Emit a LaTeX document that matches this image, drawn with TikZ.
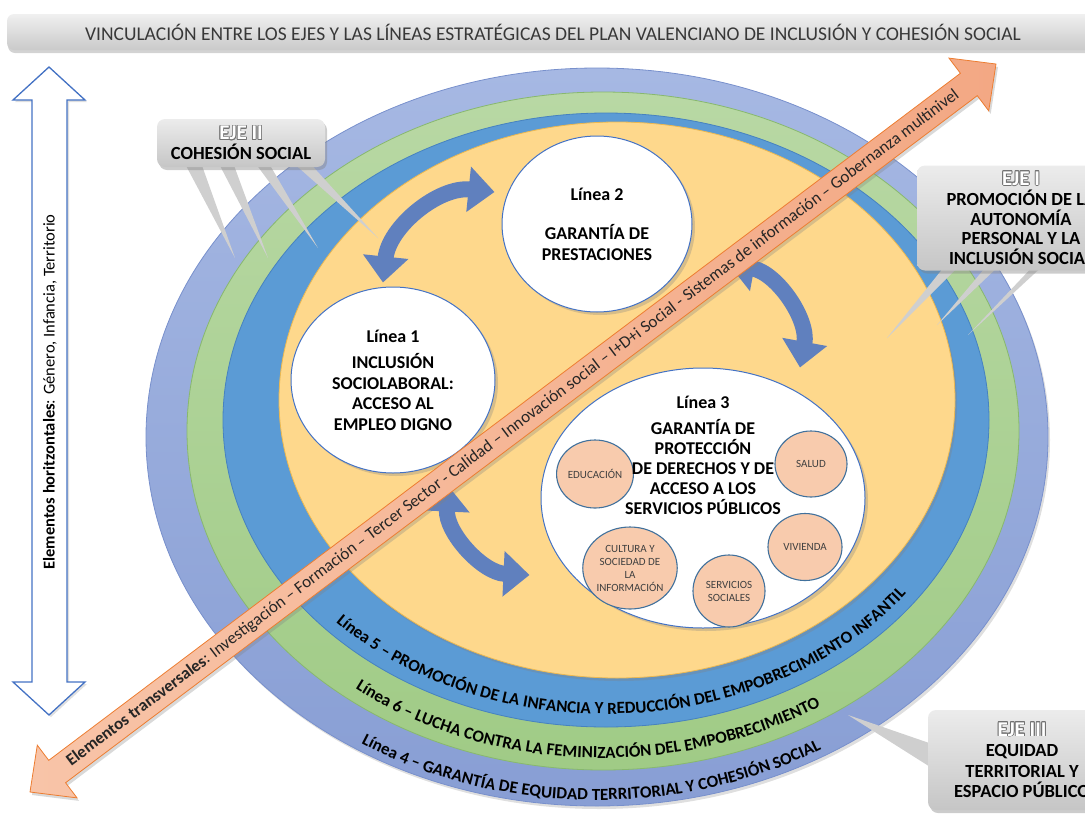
\documentclass[tikz,border=0pt]{standalone}
\usepackage{fontspec}
\setmainfont{Carlito}
\usepackage{contour}
\contourlength{0.8pt}
\usetikzlibrary{calc,shapes.geometric,arrows.meta,decorations.text,shadows}
\definecolor{ringfour}{RGB}{136,158,212}
\definecolor{ringfourtop}{RGB}{166,184,227}
\definecolor{ringfouredge}{RGB}{120,144,204}
\definecolor{ringsix}{RGB}{160,203,134}
\definecolor{ringsixtop}{RGB}{184,216,164}
\definecolor{ringsixedge}{RGB}{136,184,110}
\definecolor{ringfive}{RGB}{91,155,213}
\definecolor{ringfiveedge}{RGB}{70,130,192}
\definecolor{core}{RGB}{254,216,140}
\definecolor{coreedge}{RGB}{236,184,80}
\definecolor{lineblue}{RGB}{68,114,196}
\definecolor{turn}{RGB}{96,128,190}
\definecolor{salmon}{RGB}{248,203,173}
\definecolor{salmonedge}{RGB}{65,113,156}
\definecolor{bandlight}{RGB}{248,196,168}
\definecolor{banddark}{RGB}{243,168,132}
\definecolor{bandedge}{RGB}{237,125,49}
\definecolor{txtgray}{RGB}{64,64,64}
\newcommand{\ejetitle}[1]{{\fontsize{21}{21}\selectfont\color{white}\contour{black!55}{#1}}}

\begin{document}
\begin{tikzpicture}[x=1pt,y=-1pt,
    titlebar/.style={rounded corners=7pt, top color=gray!12, bottom color=gray!42, text=black!78, minimum width=1092, minimum height=36, font=\fontsize{19.5}{20}\selectfont, drop shadow={opacity=0.35,shadow xshift=1pt,shadow yshift=-3pt}},
    hbarrow/.style={draw=lineblue, fill=white, line width=1.3pt, drop shadow={opacity=0.25,shadow xshift=2pt,shadow yshift=-2pt}},
    ring/.style={line width=0.8pt},
    linea/.style={ellipse, draw=lineblue, line width=1pt, fill=white, align=center, font=\bfseries\fontsize{18}{20.5}\selectfont, drop shadow={opacity=0.3,shadow xshift=3pt,shadow yshift=-3pt}},
    area/.style={ellipse, draw=salmonedge, line width=1.1pt, fill=salmon, inner sep=0pt, align=center, text=txtgray, font=\fontsize{11}{13}\selectfont},
    turnarrow/.style={draw=turn, line width=16pt, {Triangle[width=44pt,length=26pt]}-{Triangle[width=44pt,length=26pt]}},
    bandarrow/.style={draw=bandedge, line width=0.8pt, left color=bandlight, right color=banddark, drop shadow={opacity=0.3,shadow xshift=2pt,shadow yshift=-3pt}},
    bandtext/.style={font=\fontsize{17}{17}\selectfont, text=black!85},
    ringtext/.style={decorate, decoration={text along path, text align=center, text={#1}}},
    ejebox/.style={rounded corners=8pt, top color=gray!15, bottom color=gray!45, align=center, font=\bfseries\fontsize{18.5}{20.5}\selectfont, drop shadow={opacity=0.4,shadow xshift=2pt,shadow yshift=-3pt}},
    tail/.style={fill=gray!38}
]
\useasboundingbox (0,0) rectangle (1085,825);

\node[titlebar] (title) at (553,32) {VINCULACIÓN ENTRE LOS EJES Y LAS LÍNEAS ESTRATÉGICAS DEL PLAN VALENCIANO DE INCLUSIÓN Y COHESIÓN SOCIAL};

\draw[hbarrow] (49,67) -- (85,100) -- (67,100) -- (67,682) -- (85,682) -- (49,715) -- (13,682) -- (32,682) -- (32,100) -- (13,100) -- cycle;
\node[rotate=90, font=\fontsize{16.5}{16.5}\selectfont] (horiz) at (50,392) {\textbf{Elementos horitzontales}: Género, Infancia, Territorio};

\draw[ring, draw=ringfouredge, top color=ringfourtop, bottom color=ringfour, drop shadow={opacity=0.25,shadow xshift=2pt,shadow yshift=-3pt}] (597,437) ellipse [x radius=451, y radius=369];
\draw[ring, draw=ringsixedge, top color=ringsixtop, bottom color=ringsix] (603,431) ellipse [x radius=416, y radius=339];
\draw[ring, draw=ringfiveedge, fill=ringfive] (606,420) ellipse [x radius=383, y radius=307];
\draw[ring, draw=coreedge, fill=core, drop shadow={opacity=0.3,shadow xshift=2pt,shadow yshift=-3pt}] (617,400) ellipse [x radius=338, y radius=278];

\path[ringtext={|\bfseries\fontsize{17}{17}\selectfont|Línea 5 – PROMOCIÓN DE LA INFANCIA Y REDUCCIÓN DEL EMPOBRECIMIENTO INFANTIL}] ($(606,420)+(172:372 and 294)$) arc[start angle=172, end angle=0, x radius=372, y radius=294];
\path[ringtext={|\bfseries\fontsize{17}{17}\selectfont|Línea 6 – LUCHA CONTRA LA FEMINIZACIÓN DEL EMPOBRECIMIENTO}] ($(603,431)+(175:403 and 327)$) arc[start angle=175, end angle=11, x radius=403, y radius=327];
\path[ringtext={|\bfseries\fontsize{17}{17}\selectfont|Línea 4 – GARANTÍA DE EQUIDAD TERRITORIAL Y COHESIÓN SOCIAL}] ($(597,437)+(170:440 and 363)$) arc[start angle=170, end angle=12, x radius=440, y radius=363];

\fill[tail] (183,160) -- (200,160) -- (235,258) -- cycle;
\fill[tail] (217,160) -- (232,160) -- (268,258) -- cycle;
\fill[tail] (253,160) -- (267,160) -- (318,248) -- cycle;
\fill[tail] (290,160) -- (307,160) -- (378,238) -- cycle;
\fill[tail] (948,262) -- (963,262) -- (887,338) -- cycle;
\fill[tail] (990,262) -- (1003,262) -- (937,325) -- cycle;
\fill[tail] (1037,262) -- (1047,262) -- (968,335) -- cycle;

\node[linea, minimum width=190, minimum height=176] (l2) at (597,224) {Línea 2\\[19pt]GARANTÍA DE\\PRESTACIONES};
\node[linea, minimum width=204, minimum height=186] (l1) at (393,380) {Línea 1\\[6pt]INCLUSIÓN\\SOCIOLABORAL:\\ACCESO AL\\EMPLEO DIGNO};
\node[linea, minimum width=324, minimum height=260] (l3) at (703,498) {};

\node[area, minimum width=70, minimum height=68] (edu) at (595,474) {EDUCACIÓN};
\node[area, minimum width=72, minimum height=66] (salud) at (811,464) {SALUD};
\node[area, minimum width=74, minimum height=67] (viv) at (805,547) {VIVIENDA};
\node[area, minimum width=72, minimum height=72] (serv) at (729,591) {SERVICIOS\\SOCIALES};
\node[area, minimum width=90, minimum height=82] (cult) at (630,568) {CULTURA Y\\SOCIEDAD DE\\LA\\INFORMACIÓN};
\node[align=center, font=\bfseries\fontsize{18}{20}\selectfont] (l3text) at (703,455) {Línea 3\\[6pt]GARANTÍA DE\\PROTECCIÓN\\DE DERECHOS Y DE\\ACCESO A LOS\\SERVICIOS PÚBLICOS};

\draw[turnarrow] ($(l1.north)+(-10,-4)$) to[bend left=45] ($(l2.west)+(-7,-32)$);
\draw[turnarrow] ($(l2.east)+(36,40)$) to[bend left=45] ($(l3.north)+(97,0)$);
\draw[turnarrow] ($(l1.south)+(55,12)$) to[bend right=45] ($(l3.west)+(-11,77)$);

\coordinate (tA) at (30,792);
\coordinate (tB) at (996,64);
\coordinate (hA) at ($(tA)!34pt!(tB)$);
\coordinate (hB) at ($(tB)!34pt!(tA)$);
\draw[bandarrow] (tA) -- ($(hA)!33pt!90:(tB)$) -- ($(hA)!14pt!90:(tB)$) -- ($(hB)!14pt!-90:(tA)$) -- ($(hB)!33pt!-90:(tA)$) -- (tB) -- ($(hB)!33pt!90:(tA)$) -- ($(hB)!14pt!90:(tA)$) -- ($(hA)!14pt!-90:(tB)$) -- ($(hA)!33pt!-90:(tB)$) -- cycle;
\path (tA) -- node[sloped, bandtext] (transv) {\textbf{Elementos transversales}: Investigación – Formación – Tercer Sector - Calidad – Innovación social – I+D+i Social - Sistemas de información – Gobernanza multinivel} (tB);

\fill[tail] (935,745) -- (935,770) -- (848,715) -- cycle;
\node[ejebox, minimum width=168, minimum height=48] (eje2) at (241,143) {\ejetitle{EJE II}\\[-1pt]COHESIÓN SOCIAL};
\node[ejebox, minimum width=208, minimum height=105] (eje1) at (1021,218) {\ejetitle{EJE I}\\PROMOCIÓN DE LA\\[-1pt]AUTONOMÍA\\[-1pt]PERSONAL Y LA\\[-1pt]INCLUSIÓN SOCIAL};
\node[ejebox, minimum width=188, minimum height=100] (eje3) at (1022,760) {\ejetitle{EJE III}\\EQUIDAD\\TERRITORIAL Y\\ESPACIO PÚBLICO};
\end{tikzpicture}
\end{document}
